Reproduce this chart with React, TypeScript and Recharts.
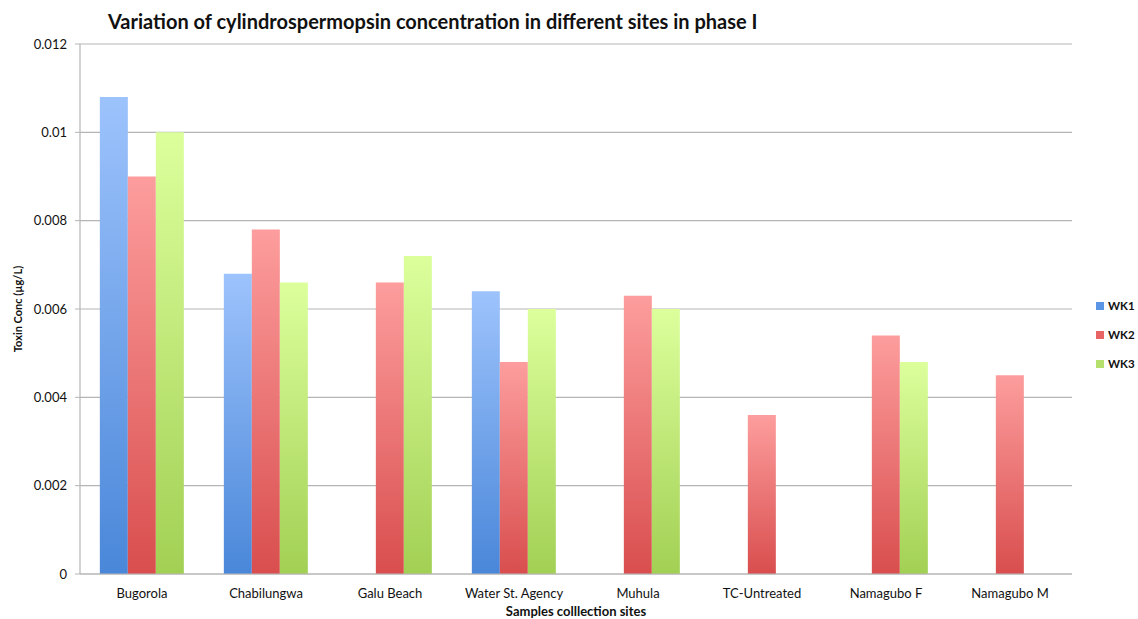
import React from 'react';
import { BarChart, Bar, XAxis, YAxis, CartesianGrid } from 'recharts';

const sites = ['Bugorola', 'Chabilungwa', 'Galu Beach', 'Water St. Agency', 'Muhula', 'TC-Untreated', 'Namagubo F', 'Namagubo M'];
const wk1 = [0.0108, 0.0068, null, 0.0064, null, null, null, null];
const wk2 = [0.009, 0.0078, 0.0066, 0.0048, 0.0063, 0.0036, 0.0054, 0.0045];
const wk3 = [0.01, 0.0066, 0.0072, 0.006, 0.006, null, 0.0048, null];
const yTicks = [0, 0.002, 0.004, 0.006, 0.008, 0.01, 0.012];
const seriesNames = ['WK1', 'WK2', 'WK3'];

const data = sites.map((s, i) => ({ site: s, WK1: wk1[i], WK2: wk2[i], WK3: wk3[i] }));

const FONT = 'Lato, "Open Sans", sans-serif';
const legendColors = ['#5b95e6', '#e86464', '#b6e06e'];

const LegendBox = () => (
  <div style={{ position: 'absolute', left: 1096, top: 291, fontFamily: FONT, fontSize: 11.5, fontWeight: 700, color: '#111' }}>
    {seriesNames.map((n, i) => (
      <div key={n} style={{ display: 'flex', alignItems: 'center', height: 29, whiteSpace: 'nowrap' }}>
        <span style={{ width: 8, height: 8, background: legendColors[i], display: 'inline-block', marginRight: 4 }} />
        <span>{n}</span>
      </div>
    ))}
  </div>
);

export default function App() {
  return (
    <div style={{ position: 'fixed', left: 0, top: 0, width: 1138, height: 619, background: '#fff', overflow: 'hidden' }}>
      <BarChart width={1138} height={619} data={data} margin={{ top: 44, right: 66, bottom: 0, left: 0 }} barCategoryGap="16%" barGap={0}>
        <defs>
          <linearGradient id="gBlue" x1="0" y1="0" x2="0" y2="1">
            <stop offset="0%" stopColor="#9dc3fc" />
            <stop offset="100%" stopColor="#4a87d9" />
          </linearGradient>
          <linearGradient id="gRed" x1="0" y1="0" x2="0" y2="1">
            <stop offset="0%" stopColor="#fd9d9d" />
            <stop offset="100%" stopColor="#d94e4e" />
          </linearGradient>
          <linearGradient id="gGreen" x1="0" y1="0" x2="0" y2="1">
            <stop offset="0%" stopColor="#dcff9c" />
            <stop offset="100%" stopColor="#a2d054" />
          </linearGradient>
        </defs>
        <CartesianGrid horizontal vertical={false} stroke="#b5b5b5" strokeWidth={1.2} />
        <XAxis
          dataKey="site"
          height={45}
          tickLine={false}
          axisLine={{ stroke: '#b5b5b5', strokeWidth: 1.2 }}
          tick={{ fontFamily: FONT, fontSize: 13, fill: '#111' }}
          tickMargin={9}
          interval={0}
          label={{ value: 'Samples colllection sites', position: 'insideBottom', offset: 3, style: { fontFamily: FONT, fontSize: 13, fontWeight: 700, fill: '#111' } }}
        />
        <YAxis
          width={80}
          domain={[0, 0.012]}
          ticks={yTicks}
          interval={0}
          tickSize={5}
          tickMargin={8}
          tickLine={{ stroke: '#b5b5b5' }}
          axisLine={{ stroke: '#b5b5b5', strokeWidth: 1.2 }}
          tick={{ fontFamily: FONT, fontSize: 13, fill: '#111' }}
          label={{ value: 'Toxin Conc (µg/L)', angle: -90, position: 'insideLeft', offset: 18, style: { textAnchor: 'middle', fontFamily: FONT, fontSize: 11, fontWeight: 700, fill: '#111' } }}
        />
        <Bar dataKey="WK1" fill="url(#gBlue)" isAnimationActive={false} />
        <Bar dataKey="WK2" fill="url(#gRed)" isAnimationActive={false} />
        <Bar dataKey="WK3" fill="url(#gGreen)" isAnimationActive={false} />
      </BarChart>
      <div style={{ position: 'absolute', left: 108, top: 9, fontFamily: FONT, fontWeight: 700, fontSize: 20, color: '#111', whiteSpace: 'nowrap' }}>
        Variation of cylindrospermopsin concentration in different sites in phase I
      </div>
      <LegendBox />
    </div>
  );
}
